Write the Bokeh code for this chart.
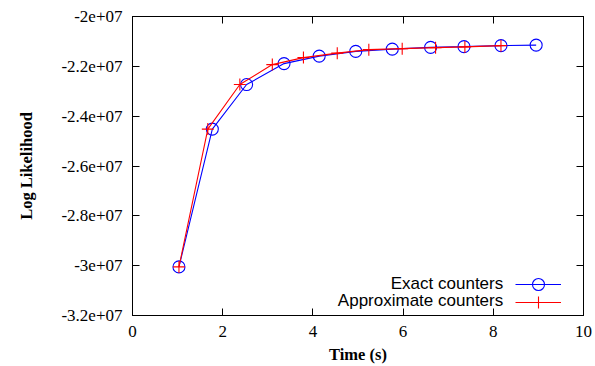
from bokeh.plotting import figure
from bokeh.models import (Range1d, FixedTicker, LinearAxis, CustomJSTickFormatter,
                          Legend, LegendItem, Label)
from bokeh.core.properties import value
from bokeh.embed import file_html
from bokeh.resources import INLINE

exact_t = [1.03, 1.77, 2.53, 3.36, 4.14, 4.95, 5.76, 6.61, 7.35, 8.17, 8.95]
exact_ll = [-3.005e7, -2.452e7, -2.273e7, -2.189e7, -2.159e7, -2.140e7,
            -2.131e7, -2.124e7, -2.121e7, -2.117e7, -2.115e7]
approx_t = [1.03, 1.67, 2.38, 3.10, 3.79, 4.54, 5.24, 5.98, 6.72, 7.37, 8.17]
approx_ll = [-3.005e7, -2.452e7, -2.273e7, -2.193e7, -2.165e7, -2.147e7,
             -2.133e7, -2.129e7, -2.125e7, -2.122e7, -2.117e7]

x_ticks = [0, 2, 4, 6, 8, 10]
y_ticks = [-3.2e7, -3.0e7, -2.8e7, -2.6e7, -2.4e7, -2.2e7, -2.0e7]
series_names = ["Exact counters", "Approximate counters"]

BLUE = "#0000ff"
RED = "#ff0000"
SERIF = "Liberation Serif"

p = figure(width=595, height=366, output_backend="svg", toolbar_location=None,
           x_range=Range1d(0, 10), y_range=Range1d(-3.2e7, -2.0e7),
           min_border_left=132, min_border_right=12, min_border_top=16, min_border_bottom=0,
           background_fill_color="white", border_fill_color="white")
p.grid.visible = False
p.outline_line_color = "black"
p.outline_line_width = 1

fmt = CustomJSTickFormatter(code="""
var s = tick.toExponential();
return s.replace(/e([+-])(\\d)$/, 'e$10$2');
""")
blank = CustomJSTickFormatter(code="return '';")

p.xaxis.ticker = FixedTicker(ticks=x_ticks)
p.yaxis.ticker = FixedTicker(ticks=y_ticks)
p.yaxis.formatter = fmt

for ax in p.xaxis + p.yaxis:
    ax.major_tick_in = 7
    ax.major_tick_out = 0
    ax.minor_tick_line_color = None
    ax.axis_line_color = "black"
    ax.major_tick_line_color = "black"
    ax.major_label_text_font = SERIF
    ax.major_label_text_font_size = "17px"
    ax.major_label_text_color = "black"
    ax.axis_label_text_font = SERIF
    ax.axis_label_text_font_style = "bold"
    ax.axis_label_text_font_size = "16.5px"
    ax.axis_label_text_color = "black"

p.xaxis.axis_label = "Time (s)"
p.yaxis.axis_label = "Log Likelihood"
p.xaxis.major_label_standoff = 10
p.yaxis.major_label_standoff = 10
p.xaxis.axis_label_standoff = 5
p.yaxis.axis_label_standoff = 22

top = LinearAxis(ticker=FixedTicker(ticks=x_ticks), formatter=blank, major_tick_in=7,
                 major_tick_out=0, minor_tick_line_color=None,
                 major_label_standoff=0, axis_line_color="black")
right = LinearAxis(ticker=FixedTicker(ticks=y_ticks), formatter=blank, major_tick_in=7,
                   major_tick_out=0, minor_tick_line_color=None,
                   major_label_standoff=0, axis_line_color="black")
p.add_layout(top, "above")
p.add_layout(right, "right")

l1 = p.line(exact_t, exact_ll, line_color=BLUE, line_width=1.1)
s1 = p.scatter(exact_t, exact_ll, marker="circle", size=12, line_color=BLUE,
               fill_alpha=0, line_width=1.1)
l2 = p.line(approx_t, approx_ll, line_color=RED, line_width=1.1)
s2 = p.scatter(approx_t, approx_ll, marker="cross", size=12, line_color=RED,
               line_width=1.1)

for rends, loc in [([l1, s1], (383, 16)), ([l2, s2], (383, -2))]:
    lg = Legend(items=[LegendItem(label=value(" "), renderers=rends)],
                location=loc, glyph_width=46, glyph_height=30, label_height=30,
                label_width=0, label_standoff=0, padding=0, margin=0, spacing=0,
                border_line_alpha=0, background_fill_alpha=0,
                label_text_font_size="1px")
    p.add_layout(lg, "center")

for txt, yy in zip(series_names, [-3.07e7, -3.14e7]):
    p.add_layout(Label(x=8.22, y=yy, text=txt, text_align="right", text_baseline="middle",
                       text_font="Liberation Sans", text_font_size="17px",
                       text_color="black"))

open("out.html", "w").write(file_html(p, INLINE))
